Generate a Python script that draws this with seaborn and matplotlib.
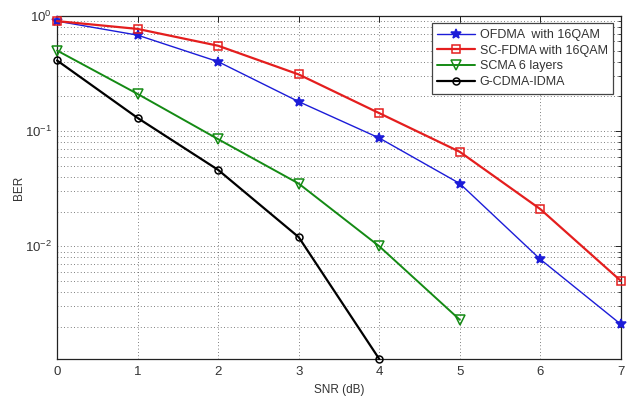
import numpy as np
import pandas as pd
import matplotlib
matplotlib.use("Agg")
import matplotlib.pyplot as plt
import seaborn as sns
from matplotlib.ticker import LogLocator, NullFormatter, FuncFormatter

snr = [0, 1, 2, 3, 4, 5, 6, 7]
ofdma = [0.90, 0.68, 0.40, 0.18, 0.087, 0.035, 0.0077, 0.0021]
scfdma = [0.90, 0.77, 0.55, 0.31, 0.143, 0.066, 0.021, 0.0050]
snr_scma = [0, 1, 2, 3, 4, 5]
scma = [0.50, 0.21, 0.085, 0.035, 0.010, 0.0023]
snr_gc = [0, 1, 2, 3, 4]
gcdma = [0.41, 0.13, 0.046, 0.012, 0.00105]

labels = ["OFDMA  with 16QAM", "SC-FDMA with 16QAM", "SCMA 6 layers", "G-CDMA-IDMA"]

sns.set_style("white")
plt.rcParams['font.family'] = ['Liberation Sans', 'DejaVu Sans']
plt.rcParams['mathtext.fontset'] = 'custom'
plt.rcParams['mathtext.rm'] = 'Liberation Sans'
plt.rcParams['mathtext.it'] = 'Liberation Sans'
plt.rcParams['axes.unicode_minus'] = False

fig = plt.figure(figsize=(6.35, 3.96), dpi=100)
fig.patch.set_facecolor("white")
ax = fig.add_axes([0.0898, 0.0934, 0.888, 0.8666])

series = [
    (snr, ofdma, labels[0], "#1c1cd8", "*", 1.0, 7, "#1c1cd8"),
    (snr, scfdma, labels[1], "#e41e1e", "s", 1.6, 6, "none"),
    (snr_scma, scma, labels[2], "#148a14", "v", 1.4, 6.5, "none"),
    (snr_gc, gcdma, labels[3], "#000000", "o", 1.6, 5, "none"),
]
for x, y, lab, col, mk, lw, ms, mfc in series:
    df = pd.DataFrame({"SNR": x, "BER": y})
    sns.lineplot(data=df, x="SNR", y="BER", ax=ax, color=col, marker=mk,
                 linewidth=lw, markersize=ms, markerfacecolor=mfc,
                 markeredgecolor=col, markeredgewidth=1.1, label=lab,
                 clip_on=False, zorder=3)

ax.set_yscale("log")
ax.set_xlim(0, 7)
ax.set_ylim(1.05e-3, 1.0)
ax.set_xticks(snr)
ax.yaxis.set_major_locator(LogLocator(base=10, numticks=10))
ax.yaxis.set_major_formatter(FuncFormatter(
    lambda v, p: r"$\mathregular{10^{%d}}$" % int(round(np.log10(v)))))
ax.yaxis.set_minor_locator(LogLocator(base=10, subs=np.arange(2, 10), numticks=20))
ax.yaxis.set_minor_formatter(NullFormatter())

ax.grid(True, which="major", axis="both", linestyle=(0, (1, 3)), color="#555555", linewidth=0.6)
ax.grid(True, which="minor", axis="y", linestyle=(0, (1, 3)), color="#555555", linewidth=0.6)

ax.tick_params(which="both", direction="in", top=True, right=True, labelsize=9.5,
               labelcolor="#333333", color="#222222")
ax.tick_params(axis="x", pad=5)
ax.tick_params(which="major", length=4, width=0.7)
ax.tick_params(which="minor", length=2, width=0.6)
for s in ax.spines.values():
    s.set_color("#222222")
    s.set_linewidth(0.9)

ax.set_xlabel("SNR (dB)", fontsize=8.5, color="#333333", labelpad=4)
ax.set_ylabel("BER", fontsize=8.5, color="#333333", labelpad=0)

leg = ax.legend(loc="upper right", fontsize=9, frameon=True, fancybox=False,
                edgecolor="#444444", framealpha=1, borderpad=0.45, handlelength=3.0,
                handletextpad=0.4, labelspacing=0.3, borderaxespad=0.6)
leg.get_frame().set_linewidth(0.9)
for t in leg.get_texts():
    t.set_color("#333333")

fig.savefig("out.png", dpi=100, facecolor="white")
